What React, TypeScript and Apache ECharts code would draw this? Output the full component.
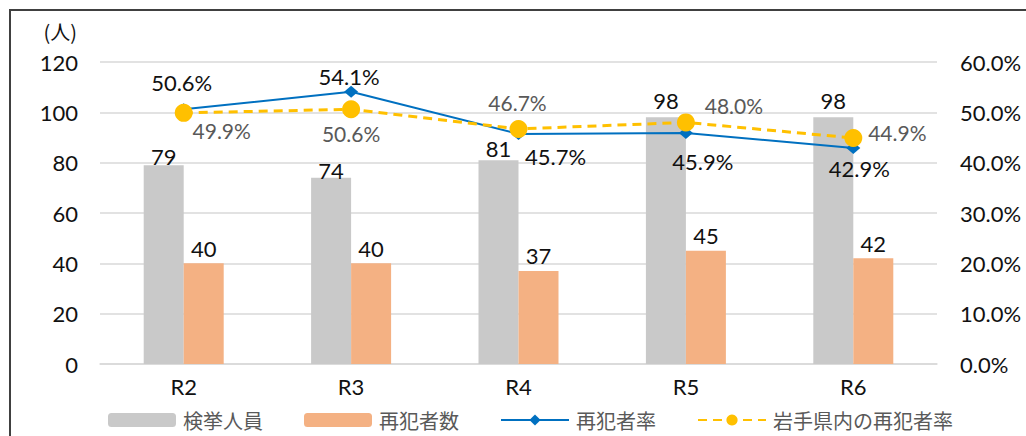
import React, { useEffect, useRef } from "react";
import * as echarts from "echarts";

const categories = ["R2", "R3", "R4", "R5", "R6"];
const arrests = [79, 74, 81, 98, 98];
const repeatOffenders = [40, 40, 37, 45, 42];
const repeatRate = [50.6, 54.1, 45.7, 45.9, 42.9];
const iwateRate = [49.9, 50.6, 46.7, 48.0, 44.9];
const leftTicks = { min: 0, max: 120, interval: 20 };
const rightTicks = { min: 0, max: 60, interval: 10 };

// label placement (layout only)
const arrestLabelDistance = [-2, -4, 1, 6, 6];
const repeatRateLabelOffset = [[-2, -27], [-2, -15], [37, 23], [17, 29], [6, 20]];
const iwateLabelOffset = [[38, 18], [0, 24], [-1, -26], [48, -17], [44, -6]];

const NUM_FONT = "Lato, 'Noto Sans', sans-serif";
const CJK_FONT = "'Noto Sans CJK JP', 'Noto Sans', sans-serif";

export default function App() {
  const ref = useRef<HTMLDivElement>(null);
  useEffect(() => {
    if (!ref.current) return;
    const chart = echarts.init(ref.current, null, { renderer: "svg" });
    const pct = (v: number) => v.toFixed(1) + "%";
    chart.setOption({
      animation: false,
      backgroundColor: "#fff",
      grid: { left: 100, right: 89, top: 62, bottom: 72, containLabel: false },
      graphic: [
        {
          type: "polyline",
          shape: { points: [[10, 440], [10, 10], [1030, 10]] },
          style: { stroke: "#404040", lineWidth: 2, fill: "none" },
          silent: true,
        },
        {
          type: "text",
          x: 77,
          y: 31,
          style: {
            text: "(人)",
            align: "right",
            verticalAlign: "middle",
            font: `20px ${CJK_FONT}`,
            fill: "#111",
          },
        },
      ],
      legend: {
        left: 108,
        top: 407,
        padding: 0,
        itemWidth: 68,
        itemHeight: 14,
        itemGap: 41,
        textStyle: { fontSize: 20, lineHeight: 26, color: "#595959", fontFamily: CJK_FONT, padding: [0, 0, 0, 2] },
        data: ["検挙人員", "再犯者数", "再犯者率", "岩手県内の再犯者率"],
      },
      xAxis: {
        type: "category",
        data: categories,
        axisLine: { lineStyle: { color: "#D9D9D9", width: 1.5 } },
        axisTick: { show: false },
        axisLabel: { fontSize: 22, color: "#111", fontFamily: NUM_FONT, margin: 11 },
      },
      yAxis: [
        {
          type: "value",
          ...leftTicks,
          axisLine: { show: false },
          axisTick: { show: false },
          splitLine: { lineStyle: { color: "#D9D9D9", width: 1.5 } },
          axisLabel: { fontSize: 22, color: "#111", fontFamily: NUM_FONT, margin: 22 },
        },
        {
          type: "value",
          ...rightTicks,
          axisLine: { show: false },
          axisTick: { show: false },
          splitLine: { show: false },
          axisLabel: {
            fontSize: 22,
            color: "#111",
            fontFamily: NUM_FONT,
            margin: 23,
            formatter: (v: number) => pct(v),
          },
        },
      ],
      series: [
        {
          name: "検挙人員",
          type: "bar",
          barWidth: 40,
          barGap: "0%",
          itemStyle: { color: "#C9C9C9" },
          data: arrests.map((v, i) => ({
            value: v,
            label: { distance: arrestLabelDistance[i] },
          })),
          label: { show: true, position: "top", fontSize: 22, color: "#111", fontFamily: NUM_FONT },
        },
        {
          name: "再犯者数",
          type: "bar",
          barWidth: 40,
          barGap: "0%",
          itemStyle: { color: "#F4B183" },
          data: repeatOffenders,
          label: { show: true, position: "top", distance: 4, fontSize: 22, color: "#111", fontFamily: NUM_FONT },
        },
        {
          name: "再犯者率",
          type: "line",
          yAxisIndex: 1,
          symbol: "diamond",
          symbolSize: [14, 12],
          lineStyle: { color: "#0070C0", width: 2 },
          itemStyle: { color: "#0070C0" },
          data: repeatRate.map((v, i) => ({
            value: v,
            label: { offset: repeatRateLabelOffset[i] },
          })),
          label: {
            show: true,
            position: "inside",
            fontSize: 22,
            color: "#111",
            fontFamily: NUM_FONT,
            formatter: (p: any) => pct(p.value),
          },
        },
        {
          name: "岩手県内の再犯者率",
          type: "line",
          yAxisIndex: 1,
          symbol: "circle",
          symbolSize: 18,
          lineStyle: { color: "#FFC000", width: 3, type: [9, 6] },
          itemStyle: { color: "#FFC000" },
          data: iwateRate.map((v, i) => ({
            value: v,
            label: { offset: iwateLabelOffset[i] },
          })),
          label: {
            show: true,
            position: "inside",
            fontSize: 21,
            color: "#595959",
            fontFamily: NUM_FONT,
            formatter: (p: any) => pct(p.value),
          },
        },
      ],
    });
    return () => chart.dispose();
  }, []);
  return (
    <div
      ref={ref}
      style={{ position: "fixed", left: 0, top: 0, width: 1026, height: 436 }}
    />
  );
}
